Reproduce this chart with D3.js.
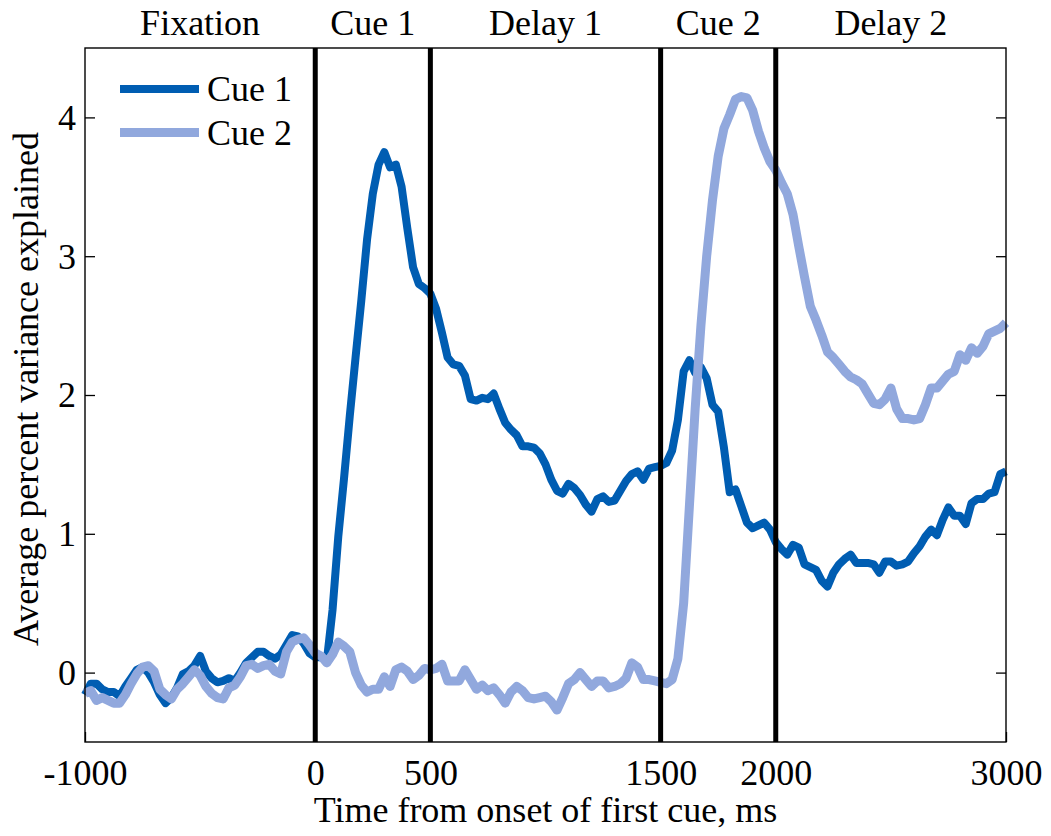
<!DOCTYPE html>
<html>
<head>
<meta charset="utf-8">
<script src="https://cdn.jsdelivr.net/npm/d3@7"></script>
<style>
  html, body { margin: 0; padding: 0; background: #ffffff; }
  svg { display: block; }
  text { font-family: "Liberation Serif", "Times New Roman", serif; fill: #000; }
</style>
</head>
<body>
<div id="chart"></div>
<script>
// Time grid (ms from onset of first cue), 25 ms steps
const timeStart = -1000;
const timeStep = 25;

// Average percent variance explained by the identity of Cue 1
const cue1Values = [
  -0.16, -0.08, -0.08, -0.12, -0.14, -0.14, -0.17, -0.10, -0.04, 0.02,
   0.04,  0.00, -0.07, -0.16, -0.22, -0.18, -0.11, -0.01,  0.01, 0.05,
   0.12,  0.01, -0.04, -0.07, -0.06, -0.04, -0.06,  0.00,  0.07, 0.11,
   0.15,  0.15,  0.12,  0.10,  0.13,  0.20,  0.27,  0.26,  0.21, 0.14,
   0.11,  0.11,  0.08,  0.45,  0.98,  1.40,  1.85,  2.27,  2.68, 3.12,
   3.45,  3.66,  3.75,  3.64,  3.66,  3.50,  3.20,  2.92,  2.80, 2.77,
   2.73,  2.62,  2.45,  2.27,  2.22,  2.21,  2.14,  1.97,  1.96, 1.98,
   1.97,  2.01,  1.90,  1.80,  1.75,  1.71,  1.63,  1.63,  1.62, 1.58,
   1.50,  1.39,  1.31,  1.29,  1.36,  1.33,  1.28,  1.21,  1.16, 1.25,
   1.27,  1.23,  1.24,  1.31,  1.38,  1.43,  1.45,  1.39,  1.47, 1.48,
   1.49,  1.51,  1.60,  1.82,  2.17,  2.25,  2.16,  2.20,  2.12, 1.93,
   1.88,  1.62,  1.30,  1.32,  1.20,  1.08,  1.04,  1.06,  1.08, 1.03,
   0.94,  0.89,  0.85,  0.92,  0.90,  0.78,  0.76,  0.74,  0.66, 0.62,
   0.72,  0.78,  0.82,  0.85,  0.79,  0.79,  0.79,  0.78,  0.72, 0.80,
   0.80,  0.77,  0.78,  0.80,  0.86,  0.91,  0.98,  1.03,  0.99, 1.10,
   1.19,  1.13,  1.13,  1.07,  1.22,  1.25,  1.25,  1.29,  1.30, 1.43,
   1.45
];

// Average percent variance explained by the identity of Cue 2
const cue2Values = [
  -0.15, -0.13, -0.20, -0.18, -0.20, -0.22, -0.22, -0.16, -0.08, -0.01,
   0.04,  0.05,  0.01, -0.12, -0.16, -0.19, -0.12, -0.08, -0.03,  0.02,
  -0.02, -0.10, -0.15, -0.18, -0.19, -0.11, -0.09, -0.03,  0.05,  0.06,
   0.03,  0.05,  0.06,  0.01, -0.01,  0.15,  0.22,  0.24,  0.25,  0.20,
   0.14,  0.12,  0.07,  0.13,  0.22,  0.19,  0.15,  0.00, -0.09, -0.14,
  -0.12, -0.12, -0.03, -0.10,  0.02,  0.04,  0.01, -0.05, -0.02,  0.03,
   0.02,  0.03,  0.06, -0.06, -0.06, -0.06,  0.02, -0.05, -0.12, -0.09,
  -0.13, -0.11, -0.16, -0.22, -0.14, -0.10, -0.13, -0.18, -0.19, -0.18,
  -0.17, -0.21, -0.27, -0.18, -0.08, -0.05,  0.00, -0.05, -0.10, -0.06,
  -0.06, -0.11, -0.10, -0.08, -0.04,  0.07,  0.04, -0.05, -0.05, -0.06,
  -0.07, -0.08, -0.05,  0.10,  0.50,  1.20,  1.90,  2.50,  3.00,  3.40,
   3.72,  3.92,  4.02,  4.13,  4.15,  4.14,  4.05,  3.90,  3.78,  3.68,
   3.62,  3.53,  3.45,  3.30,  3.07,  2.85,  2.64,  2.54,  2.43,  2.31,
   2.27,  2.22,  2.17,  2.13,  2.11,  2.08,  2.01,  1.94,  1.93,  1.97,
   2.05,  1.90,  1.83,  1.83,  1.82,  1.83,  1.93,  2.05,  2.05,  2.10,
   2.15,  2.17,  2.29,  2.25,  2.34,  2.30,  2.35,  2.44,  2.46,  2.48,
   2.52
];

// Task epoch boundaries and their names
const epochBounds = [-1000, 0, 500, 1500, 2000, 3000];
const epochNames = ["Fixation", "Cue 1", "Delay 1", "Cue 2", "Delay 2"];

// Axis ticks
const xTicks = [-1000, 0, 500, 1500, 2000, 3000];
const yTicks = [0, 1, 2, 3, 4];

const seriesNames = ["Cue 1", "Cue 2"];
const seriesColors = ["#005db2", "#91a8dd"];
const seriesWidths = [8, 9];

const W = 1051, H = 836;
const margin = { left: 85, top: 48, right: 45, bottom: 94 };
const plotW = W - margin.left - margin.right;
const plotH = H - margin.top - margin.bottom;

const svg = d3.select("#chart").append("svg")
  .attr("width", W).attr("height", H);

const x = d3.scaleLinear().domain([-1000, 3000]).range([0, plotW]);
const y = d3.scaleLinear().domain([-0.5, 4.5]).range([plotH, 0]);

const g = svg.append("g").attr("transform", `translate(${margin.left},${margin.top})`);

const fontSize = 36;

// Series lines
const series = [cue1Values, cue2Values].map(vals =>
  vals.map((v, i) => ({ t: timeStart + i * timeStep, v })));

const line = d3.line().x(d => x(d.t)).y(d => y(d.v)).curve(d3.curveLinear);

series.forEach((data, k) => {
  g.append("path")
    .datum(data)
    .attr("fill", "none")
    .attr("stroke", seriesColors[k])
    .attr("stroke-width", seriesWidths[k])
    .attr("stroke-linejoin", "round")
    .attr("stroke-linecap", "butt")
    .attr("d", line);
});

// Epoch boundary lines
g.selectAll("line.epoch")
  .data(epochBounds.slice(1, -1))
  .enter().append("line")
  .attr("class", "epoch")
  .attr("x1", d => x(d)).attr("x2", d => x(d))
  .attr("y1", 0).attr("y2", plotH)
  .attr("stroke", "#000").attr("stroke-width", 5);

// Axes (ticks point inward)
const styleAxis = sel => {
  sel.selectAll("path.domain").remove();
  sel.selectAll(".tick line").attr("stroke", "#000").attr("stroke-width", 1.3);
  sel.selectAll("text").style("font-family", "'Liberation Serif', 'Times New Roman', serif")
    .style("font-size", fontSize + "px").attr("fill", "#000");
};

const yAxisL = g.append("g")
  .call(d3.axisLeft(y).tickValues(yTicks).tickFormat(d => String(d))
    .tickSizeInner(-10).tickSizeOuter(0).tickPadding(9));
styleAxis(yAxisL);
yAxisL.selectAll("text").attr("dy", "0.33em");

const yAxisR = g.append("g").attr("transform", `translate(${plotW},0)`)
  .call(d3.axisRight(y).tickValues(yTicks).tickFormat("")
    .tickSizeInner(-10).tickSizeOuter(0));
styleAxis(yAxisR);

const xAxisB = g.append("g").attr("transform", `translate(0,${plotH})`)
  .call(d3.axisBottom(x).tickValues(xTicks).tickFormat(d => String(d))
    .tickSizeInner(-10).tickSizeOuter(0));
styleAxis(xAxisB);
xAxisB.selectAll("text").attr("y", 43).attr("dy", 0);

// Frame
g.append("rect")
  .attr("x", 0).attr("y", 0).attr("width", plotW).attr("height", plotH)
  .attr("fill", "none").attr("stroke", "#000").attr("stroke-width", 1.4);

// Epoch names above the frame
svg.selectAll("text.epochName")
  .data(epochNames)
  .enter().append("text")
  .attr("class", "epochName")
  .attr("x", (d, i) => margin.left + (x(epochBounds[i]) + x(epochBounds[i + 1])) / 2)
  .attr("y", 35)
  .attr("text-anchor", "middle")
  .style("font-size", fontSize + "px")
  .text(d => d);

// Axis titles
svg.append("text")
  .attr("x", margin.left + plotW / 2)
  .attr("y", 822)
  .attr("text-anchor", "middle")
  .style("font-size", fontSize + "px")
  .text("Time from onset of first cue, ms");

svg.append("text")
  .attr("transform", `translate(38,${margin.top + plotH / 2 - 6}) rotate(-90)`)
  .attr("text-anchor", "middle")
  .style("font-size", fontSize + "px")
  .text("Average percent variance explained");

// Legend
const legend = svg.append("g").attr("transform", "translate(120,89)");
seriesNames.forEach((name, k) => {
  const row = legend.append("g").attr("transform", `translate(0,${k * 43.5})`);
  row.append("line")
    .attr("x1", 0).attr("x2", 79).attr("y1", 0).attr("y2", 0)
    .attr("stroke", seriesColors[k]).attr("stroke-width", seriesWidths[k]);
  row.append("text")
    .attr("x", 87).attr("y", 12)
    .style("font-size", fontSize + "px")
    .text(name);
});
</script>
</body>
</html>
